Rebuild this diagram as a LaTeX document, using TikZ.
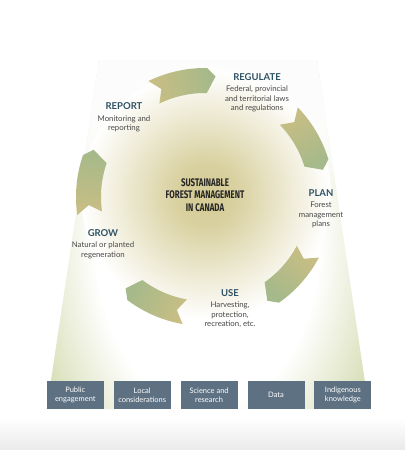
\documentclass[tikz,border=0pt]{standalone}
\usepackage{fontspec}
\setmainfont{Lato}
\newfontfamily\condfont[FakeStretch=0.72]{Fira Sans}
\usepackage{tikz}
\usetikzlibrary{positioning}

\definecolor{headblue}{RGB}{46,82,102}
\definecolor{bodygray}{RGB}{72,72,72}
\definecolor{slate}{RGB}{93,113,131}
\definecolor{tailc}{RGB}{201,190,132}
\definecolor{headc}{RGB}{165,185,138}
\definecolor{glowc}{RGB}{212,203,148}
\definecolor{trapc}{RGB}{216,223,184}
\definecolor{floorc}{RGB}{234,234,234}

% white in the middle of the base, green towards its edges (25bp = edge of the path)
\pgfdeclareradialshading{basefade}{\pgfpointorigin}{color(0bp)=(white); color(14bp)=(white);
  color(23bp)=(trapc); color(50bp)=(trapc)}
% the glow round the title
\pgfdeclareradialshading{titleglow}{\pgfpointorigin}{color(0bp)=(glowc); color(6bp)=(glowc!90!white);
  color(16bp)=(glowc!42!white); color(25bp)=(white); color(50bp)=(white)}

% one curved arrow of the cycle, #1 = angle of its tail
\newcommand{\cyclearrow}[1]{%
  \shade[top color=tailc, bottom color=headc, shading angle=#1-15]
    (-#1:129) arc[start angle=-#1, end angle=-#1+27, radius=129]
    -- (-#1+31:121) -- (-#1+27:104)
    arc[start angle=-#1+27, end angle=-#1, radius=104]
    -- (-#1+4:116.5) -- cycle;}

\tikzset{
  stage/.style={font=\bfseries\fontsize{9.5}{11}\selectfont, text=headblue, inner sep=0pt},
  stagetext/.style={font=\fontsize{7.8}{9.6}\selectfont, text=bodygray, align=center, inner sep=0pt},
  centertext/.style={font=\condfont\bfseries\fontsize{11}{12.3}\selectfont, text=black!85, align=center, inner sep=0pt},
  basebox/.style={fill=slate, text=white, minimum width=57pt, minimum height=28pt, inner sep=0pt,
    align=center, font=\fontsize{7.5}{9}\selectfont},
}

\begin{document}
\begin{tikzpicture}[x=1pt,y=-1pt]
\useasboundingbox (0,0) rectangle (405,450);
\fill[white] (0,0) rectangle (405,450);
\shade[top color=white, bottom color=floorc] (0,418) rectangle (405,450);
%%%%% light green base with the glow behind the cycle
\begin{scope}
\clip (99,60) -- (317,60) -- (369,409) -- (46.7,409) -- cycle;
\shade[shading=basefade] (207,240) ellipse [x radius=200, y radius=300];
\foreach \k in {1,...,13}
  \fill[white, opacity=0.25] (0,50) rectangle (405,65+9*\k);
\end{scope}
\shade[shading=titleglow] (206,195) circle (125);

%%%%% the five arrows
\begin{scope}[shift={(205,197)}]
\cyclearrow{116}
\cyclearrow{44}
\cyclearrow{332}
\cyclearrow{260}
\cyclearrow{188}
\end{scope}

\node[centertext] (sfm) at (205,195) {SUSTAINABLE\\FOREST MANAGEMENT\\IN CANADA};

\node[stage] (regulate) at (257,77) {REGULATE};
\node[stagetext, below=5pt of regulate] (regulatetext) {Federal, provincial\\and territorial laws\\and regulations};
\node[stage] (plan) at (321,193) {PLAN};
\node[stagetext, below=5pt of plan] (plantext) {Forest\\management\\plans};
\node[stage] (use) at (230,293) {USE};
\node[stagetext, below=5pt of use] (usetext) {Harvesting,\\protection,\\recreation, etc.};
\node[stage] (grow) at (103,233) {GROW};
\node[stagetext, below=5pt of grow] (growtext) {Natural or planted\\regeneration};
\node[stage] (report) at (124,106.5) {REPORT};
\node[stagetext, below=5pt of report] (reporttext) {Monitoring and\\reporting};

%%%%% the base it rests on
\node[basebox] (public) at (75.3,395) {Public\\engagement};
\node[basebox, right=9.5pt of public] (local) {Local\\considerations};
\node[basebox, right=9.5pt of local] (science) {Science and\\research};
\node[basebox, right=9.5pt of science] (data) {Data};
\node[basebox, right=9.5pt of data] (indigenous) {Indigenous\\knowledge};
\end{tikzpicture}
\end{document}
